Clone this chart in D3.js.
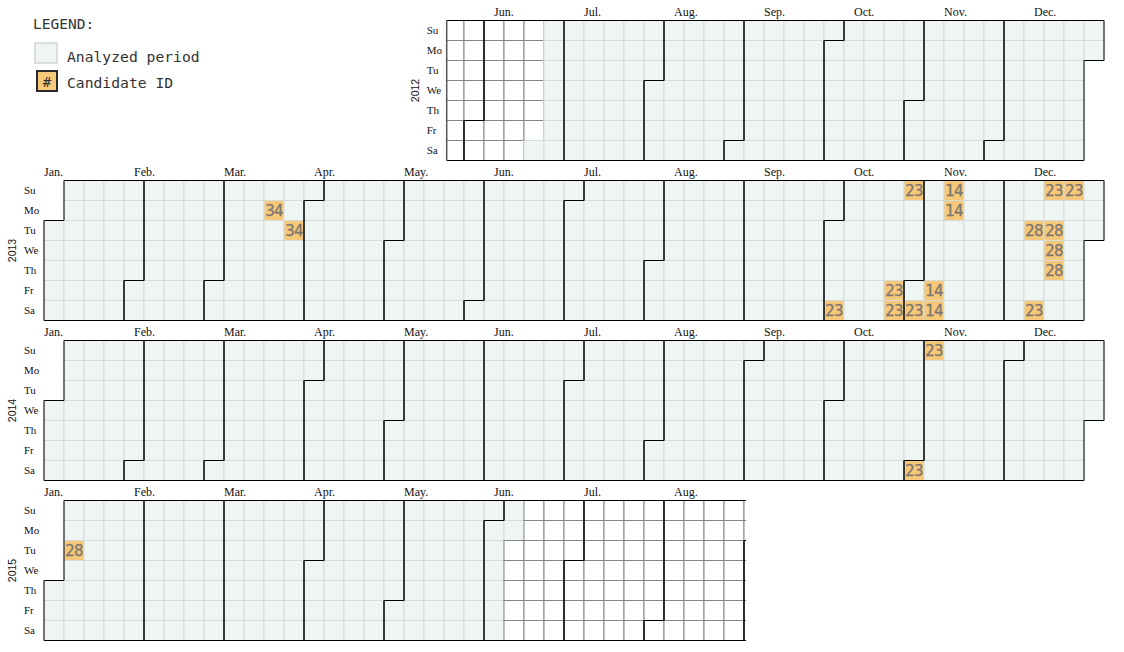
<!DOCTYPE html>
<html>
<head>
<meta charset="utf-8">
<script src="https://cdn.jsdelivr.net/npm/d3@7"></script>
<style>
  html, body { margin: 0; padding: 0; background: #fff; }
  svg { display: block; }
</style>
</head>
<body>
<svg id="chart" width="1124" height="652"></svg>
<script>
// ---------- data ----------
const years = [2012, 2013, 2014, 2015];
const dayLabels = ["Su", "Mo", "Tu", "We", "Th", "Fr", "Sa"];
const monthLabels = ["Jan.", "Feb.", "Mar.", "Apr.", "May.", "Jun.", "Jul.", "Aug.", "Sep.", "Oct.", "Nov.", "Dec."];
const drawnStart = "2012-05-20";
const drawnEnd = "2015-09-30";
const visibleEnd = "2015-08-29";
const analyzedStart = "2012-06-23";
const analyzedEnd = "2015-06-08";
const candidateDates = ["2013-03-18", "2013-03-26", "2013-10-05", "2013-10-25", "2013-10-26",
  "2013-10-27", "2013-11-02", "2013-11-08", "2013-11-09", "2013-11-10", "2013-11-11",
  "2013-12-10", "2013-12-14", "2013-12-15", "2013-12-17", "2013-12-18", "2013-12-19",
  "2013-12-22", "2014-11-01", "2014-11-02", "2015-01-06"];
const candidateIds = [34, 34, 23, 23, 23, 23, 23, 14, 14, 14, 14, 28, 23, 23, 28, 28, 28, 23, 23, 23, 28];
const legendLabels = ["Analyzed period", "Candidate ID"];

// ---------- layout ----------
const cz = 20, left = 44, top0 = 20.5, rowGap = 160;
const parse = d3.timeParse("%Y-%m-%d");
const fmt = d3.timeFormat("%Y-%m-%d");
const dStart = parse(drawnStart), dEnd = parse(drawnEnd), vEnd = parse(visibleEnd);
const aStart = parse(analyzedStart), aEnd = parse(analyzedEnd);
const candMap = new Map(candidateDates.map((d, i) => [d, candidateIds[i]]));

const C = {
  white: "#ffffff", whiteStroke: "#858585",
  green: "#eef5f2", greenStroke: "#d5dcd8",
  orange: "#f6c87a", text: "#7e7a74"
};

const week = d => d3.timeWeek.count(d3.timeYear(d), d);
const xOf = d => week(d) * cz;
const yOf = d => d.getDay() * cz;

const svg = d3.select("#chart");
svg.append("rect").attr("width", 1124).attr("height", 652).attr("fill", "#fff");

// legend
const lg = svg.append("g").attr("font-family", "'DejaVu Sans Mono', monospace");
lg.append("text").attr("x", 33).attr("y", 29).attr("font-size", 14.5).attr("fill", "#333").text("LEGEND:");
lg.append("rect").attr("x", 35).attr("y", 43).attr("width", 22).attr("height", 20)
  .attr("fill", C.green).attr("stroke", "#dcdcdc").attr("stroke-width", 2);
lg.append("rect").attr("x", 37).attr("y", 71).attr("width", 20).attr("height", 20)
  .attr("fill", C.orange).attr("stroke", "#2a2a2a").attr("stroke-width", 2);
lg.append("text").attr("x", 47).attr("y", 87).attr("text-anchor", "middle").attr("font-size", 14)
  .attr("fill", "#333").text("#");
lg.selectAll("text.lbl").data(legendLabels).join("text").attr("class", "lbl")
  .attr("x", 67).attr("y", (d, i) => 62 + i * 26).attr("font-size", 14.7).attr("fill", "#333").text(d => d);

function monthPath(t0, t1) {
  const d0 = t0.getDay(), w0 = week(t0);
  const d1 = t1.getDay(), w1 = week(t1);
  return `M${(w0 + 1) * cz},${d0 * cz}H${w0 * cz}V${7 * cz}H${w1 * cz}V${(d1 + 1) * cz}H${(w1 + 1) * cz}V0H${(w0 + 1) * cz}Z`;
}

years.forEach((yr, i) => {
  const rowTop = top0 + i * rowGap;
  const y0 = new Date(yr, 0, 1), y1 = new Date(yr + 1, 0, 1);
  const from = y0 < dStart ? dStart : y0;
  const to = y1 > d3.timeDay.offset(dEnd, 1) ? d3.timeDay.offset(dEnd, 1) : y1;
  const days = d3.timeDays(from, to);

  const row = svg.append("g").attr("transform", `translate(${left},${rowTop})`);

  // clip: the visible window of each row
  const clipId = "clip" + yr;
  const clipLeft = (from > y0) ? week(from) * cz + 2.7 : -1;
  const clipRight = (vEnd >= y0 && vEnd < y1) ? (week(vEnd) + 1) * cz + 2 : 60 * cz;
  svg.append("clipPath").attr("id", clipId).append("rect")
    .attr("x", clipLeft).attr("y", -10).attr("width", clipRight - clipLeft).attr("height", 7 * cz + 20);
  const cells = row.append("g").attr("clip-path", `url(#${clipId})`);
  const labelX = Math.max(clipLeft, 0);

  cells.selectAll("rect.day").data(days).join("rect").attr("class", "day")
    .attr("x", xOf).attr("y", yOf).attr("width", cz).attr("height", cz)
    .attr("fill", d => candMap.has(fmt(d)) ? C.orange : (d >= aStart && d <= aEnd ? C.green : C.white))
    .attr("stroke", d => (d >= aStart && d <= aEnd) ? C.greenStroke : C.whiteStroke)
    .attr("stroke-width", 1);

  // left outline of a clipped row start
  if (from > y0) {
    row.append("line").attr("x1", clipLeft).attr("x2", clipLeft).attr("y1", 0).attr("y2", 7 * cz)
      .attr("stroke", "#555").attr("stroke-width", 1.5);
  }

  // month outlines
  const months = d3.timeMonths(d3.timeMonth.floor(from), to);
  cells.selectAll("path.month").data(months).join("path").attr("class", "month")
    .attr("d", m => {
      const t0 = m < from ? from : m;
      let t1 = d3.timeDay.offset(d3.timeMonth.offset(m, 1), -1);
      const last = d3.timeDay.offset(to, -1);
      if (t1 > last) t1 = last;
      return monthPath(t0, t1);
    })
    .attr("fill", "none").attr("stroke", "#000").attr("stroke-width", 1);

  // candidate ids
  const cands = days.filter(d => candMap.has(fmt(d)));
  cells.selectAll("text.cid").data(cands).join("text").attr("class", "cid")
    .attr("x", d => xOf(d) + cz / 2).attr("y", d => yOf(d) + 15.5)
    .attr("text-anchor", "middle")
    .attr("font-family", "'DejaVu Sans', sans-serif").attr("font-size", 15)
    .attr("letter-spacing", -0.9)
    .attr("fill", C.text).attr("stroke", "#77736d").attr("stroke-width", 0.3)
    .text(d => candMap.get(fmt(d)));

  // month labels
  const labelMonths = d3.range(12).filter(m => {
    const first = new Date(yr, m, 1);
    return first >= dStart && first <= vEnd;
  });
  row.selectAll("text.mlab").data(labelMonths).join("text").attr("class", "mlab")
    .attr("x", m => m * 4.5 * cz).attr("y", -4.5)
    .attr("font-family", "'Liberation Serif', serif").attr("font-size", 12).attr("fill", "#111")
    .text(m => monthLabels[m]);

  // day labels
  row.append("g").selectAll("text").data(dayLabels).join("text")
    .attr("x", labelX - 20).attr("y", (d, k) => k * cz + 13.5)
    .attr("font-family", "'Liberation Serif', serif").attr("font-size", 11).attr("fill", "#111")
    .text(d => d);

  // year label
  row.append("text").attr("transform", `translate(${labelX - 28},${3.5 * cz}) rotate(-90)`)
    .attr("text-anchor", "middle").attr("font-family", "'Liberation Sans', Arial, sans-serif")
    .attr("font-size", 10.5).attr("fill", "#111").text(yr);
});
</script>
</body>
</html>
